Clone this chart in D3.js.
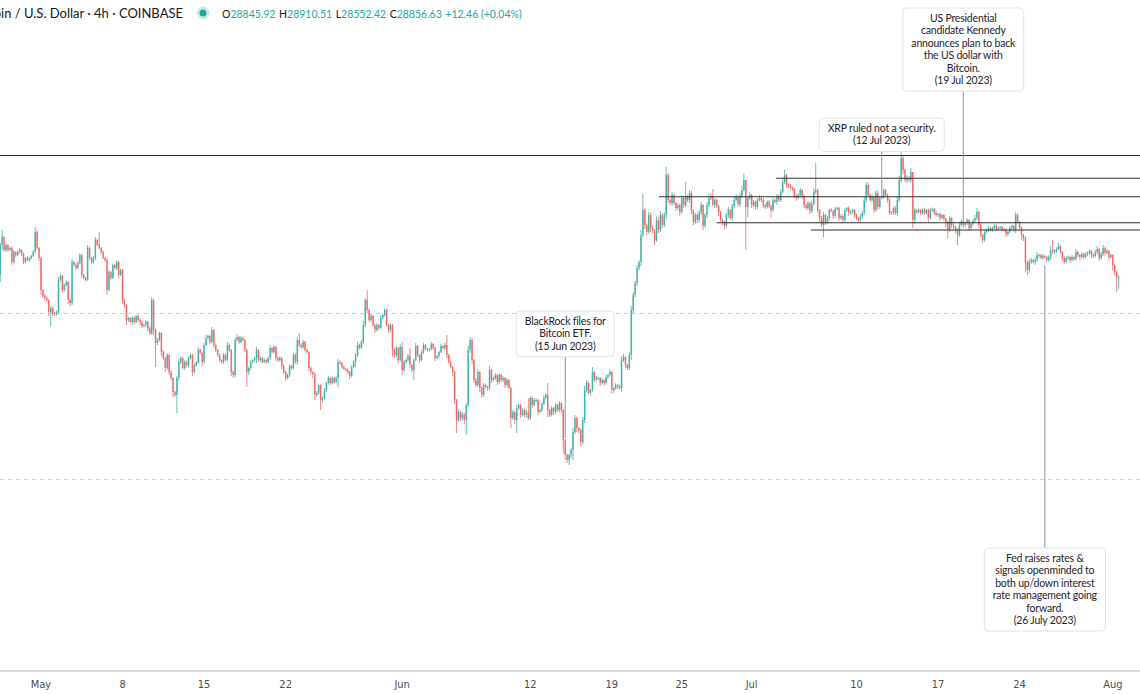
<!DOCTYPE html>
<html><head><meta charset="utf-8">
<script src="https://cdn.jsdelivr.net/npm/d3@7"></script>
<style>
html,body{margin:0;padding:0;background:#fff;}
svg{display:block;}
</style></head><body>
<svg id="chart" width="1140" height="694"></svg>
<script>
// ---- DATA (4h candles, Coinbase BTC/USD) ----
const candleStart = Date.UTC(2023, 3, 27, 12); // first candle time
const candleHours = 4;
const firstOpen = 28900;
// closes, one row per day (6 x 4h)
const closes = [
29620,29812,29500,29620,29500,29548, 29212,29452,29380,29452,29500,29404,
29212,29308,29260,29308,29356,29452, 29932,29548,29308,28540,28396,28348,
28300,28012,28108,27988,27964,28012, 28780,28876,28540,28660,28732,28300,
28228,29212,29140,29068,29188,29380, 28900,28828,28780,29548,29308,29212,
29308,29740,29620,29548,29452,29308, 29260,28540,28972,28828,29140,29068,
29212,28900,29020,28300,28180,27820, 27868,27772,27868,27772,27916,27820,
27772,27676,27700,27772,27628,27508, 28300,27580,27268,27340,27508,27052,
26908,26668,26980,26572,26428,26092, 26020,26428,26812,26908,26668,26812,
26740,26908,26980,26572,26740,26812, 27100,27028,26812,27220,27388,27436,
27292,27580,27220,27100,26980,26860, 26812,26980,26860,27220,27100,26572,
26500,27340,27412,27292,27388,27340, 27100,26572,26668,26812,26860,26908,
27100,26860,26908,26812,26860,26812, 26908,27148,27052,27172,26908,26860,
26908,26716,26572,26428,26500,26716, 26668,26980,26812,27340,27220,27172,
27292,27100,27052,26668,26572,26524, 26020,26068,26260,25900,25948,26140,
26308,26428,26308,26428,26332,26428, 26812,26788,26692,26644,26620,26572,
26476,26692,26812,26980,27220,27148, 27292,27700,28300,28060,27820,27916,
27700,27580,27700,27628,27868,27940, 28060,27700,27580,27700,27100,26980,
27148,26860,27172,26620,26812,26860, 26956,26740,26620,26860,27196,26980,
26860,27052,27220,27124,27100,27124, 27244,27148,26908,26956,27052,27196,
27148,27220,26980,26812,26692,26572, 25900,25420,25612,25468,25564,25420,
25780,27100,27340,26860,26380,26260, 26572,26188,26020,26260,26212,26188,
26620,26380,26428,26500,26332,26500, 26380,26428,26260,26380,26188,25468,
25612,25420,25708,25780,25540,25660, 25540,25612,25468,25948,25780,25900,
25900,25612,25660,25804,25948,26020, 25660,25540,25708,25612,25780,25660,
25828,25660,24940,24580,24460,24580, 24700,25132,25468,25228,25180,24892,
25420,26140,26308,26068,26140,26572, 26380,26428,26428,26308,26380,26308,
26452,26500,26572,26140,26188,26260, 26236,26188,26860,26932,26740,26668,
26980,28060,28420,28708,29068,29212, 29860,30460,30100,29932,30340,30028,
29980,29740,30220,29980,30340,30100, 30340,31300,30700,30628,30820,30628,
30508,30580,30412,30748,30580,30796, 30700,30868,30460,30172,30340,30220,
30412,30580,30076,30340,30580,30748, 30796,30580,30700,30556,30412,30220,
30172,30076,30340,30460,30268,30556, 30700,30772,30604,30796,30940,31180,
30532,30748,30820,30580,30652,30532, 30700,30748,30700,30580,30532,30652,
30556,30460,30700,30652,30796,30700, 30892,31132,31300,31060,31036,30988,
30964,30796,30748,30820,30940,30796, 30580,30508,30628,30436,30604,30892,
30940,30460,30268,30100,30340,30172, 30268,30460,30436,30316,30484,30508,
30268,30316,30220,30460,30508,30388, 30412,30460,30340,30268,30220,30316,
30388,30700,31060,30820,30700,30772, 30460,30868,30532,30748,30796,30940,
30820,30700,30388,30412,30508,30388, 30700,31180,31708,31420,31180,31228,
31180,31372,30220,30460,30412,30460, 30388,30460,30388,30460,30268,30460,
30484,30388,30340,30364,30268,30340, 30244,30172,29980,30268,30100,30052,
29980,29860,30100,30196,30100,30148, 30220,30028,30124,30196,30268,30412,
30100,29860,29740,29932,29980,30028, 29980,30028,30076,30004,30028,30052,
30004,29980,29884,29932,30028,30076, 29980,30340,30172,30028,29860,29788,
29212,29020,29212,29260,29212,29260, 29380,29380,29308,29356,29332,29260,
29332,29500,29452,29476,29524,29596, 29452,29308,29212,29308,29332,29260,
29332,29284,29452,29380,29332,29404, 29332,29404,29428,29476,29380,29356,
29452,29524,29308,29404,29548,29428, 29476,29332,29380,29140,28972,28844.17,
28856.63
];
// wick lengths above the body / below the body (USD)
const upperWick = [
48,168,36,48,24,36, 36,48,24,36,48,24, 36,24,48,36,24,48, 120,48,24,36,24,48,
36,24,48,36,24,36, 72,48,24,36,48,24, 36,72,24,36,48,48, 24,36,24,72,36,24,
48,72,36,312,24,36, 24,36,48,24,36,24, 48,24,36,24,36,24, 36,24,48,36,24,36,
48,36,24,36,24,36, 72,24,36,48,36,24, 36,24,48,24,36,24, 24,48,72,36,24,48,
36,48,36,24,36,24, 72,36,24,48,72,36, 24,72,24,36,24,36, 24,48,36,72,36,24,
36,48,72,24,48,36, 24,36,36,48,24,36, 72,24,36,24,48,24, 36,72,24,48,24,36,
48,24,36,24,36,48, 24,48,36,72,168,36, 48,24,36,24,36,24, 36,48,36,24,36,48,
36,48,24,36,24,48, 72,48,24,36,24,36, 24,48,36,48,72,36, 48,96,48,240,36,48,
24,36,48,24,72,36, 48,24,36,48,24,36, 48,24,72,120,48,36, 48,192,24,36,72,24,
24,48,48,24,36,24, 48,24,36,24,36,48, 24,48,240,24,36,24, 36,24,72,36,48,24,
48,96,72,36,24,48, 72,24,36,48,24,36, 96,24,36,48,24,48, 36,48,24,48,24,36,
48,24,72,36,24,48, 24,48,336,48,36,48, 48,24,36,48,72,48, 288,24,48,24,48,24,
48,24,36,24,36,24, 48,96,72,36,24,36, 72,96,72,36,24,120, 24,48,36,24,48,24,
48,36,72,24,36,48, 24,36,96,72,24,36, 72,96,72,48,72,48, 120,408,48,36,72,48,
48,24,72,48,96,48, 72,192,48,36,72,48, 24,48,36,72,48,336, 36,72,48,24,48,36,
48,72,24,48,72,96, 72,168,48,36,24,36, 24,36,48,72,24,48, 96,72,48,72,96,168,
0,48,72,24,48,36, 48,72,36,48,24,36, 48,24,72,36,48,36, 72,96,120,48,24,48,
36,24,48,36,48,24, 36,24,48,24,72,96, 648,36,24,48,72,24, 48,36,48,24,48,36,
24,48,36,48,24,48, 48,36,24,36,24,48, 48,72,72,48,36,72, 24,72,48,36,72,48,
24,36,48,24,36,48, 72,96,144,48,36,72, 48,96,0,48,24,36, 24,36,48,24,36,48,
36,24,48,24,36,24, 24,36,24,48,24,36, 24,36,72,48,24,36, 48,24,36,48,72,96,
24,36,24,48,36,48, 24,36,48,24,36,24, 36,24,36,24,48,36, 24,72,36,24,36,24,
48,36,72,48,24,48, 72,36,24,48,36,24, 48,96,240,48,36,72, 36,24,36,48,36,24,
48,24,72,36,24,48, 24,48,36,48,24,36, 48,72,24,48,72,36, 48,24,36,24,36,48,
53.88
];
const lowerWick = [
168,120,48,36,48,24, 72,36,48,24,36,48, 48,36,24,48,36,24, 36,48,72,120,48,72,
48,96,360,72,48,36, 48,36,72,48,36,96, 72,48,36,48,24,36, 72,36,48,24,48,36,
36,48,24,36,48,24, 48,120,36,48,24,36, 48,72,24,96,72,120, 48,36,72,48,36,48,
72,48,36,48,72,48, 48,120,576,48,36,96, 48,96,48,72,48,120, 48,432,72,48,36,48,
36,48,36,96,48,36, 48,36,96,48,24,36, 48,24,72,48,36,48, 36,48,24,36,48,96,
72,48,36,48,24,36, 48,360,72,48,36,48, 120,36,48,36,24,48, 36,48,24,36,72,48,
48,72,48,72,36,48, 48,36,48,72,48,36, 48,36,48,72,48,96, 120,48,36,240,48,36,
48,36,48,24,48,36, 216,48,36,24,36,48, 72,36,24,120,48,36, 24,48,48,72,48,36,
48,72,36,48,24,36, 36,48,72,48,168,72, 48,72,36,120,48,36, 48,72,48,240,24,48,
72,36,48,24,36,48, 36,48,72,36,48,24, 36,48,72,48,36,96, 96,312,48,72,48,96,
360,48,72,96,72,48, 48,96,72,48,36,72, 48,72,36,48,72,48, 36,48,72,48,36,240,
48,96,312,48,72,36, 48,72,48,48,72,36, 48,72,36,48,24,36, 168,48,36,72,48,36,
48,72,312,120,72,120, 72,240,48,96,72,96, 48,72,48,36,72,48, 48,36,48,72,36,48,
36,48,36,96,72,48, 72,48,96,48,72,48, 48,120,72,48,72,48, 96,48,96,72,48,96,
72,120,48,72,48,72, 48,96,72,48,72,48, 72,48,96,48,72,48, 48,72,96,72,48,72,
48,72,96,48,72,48, 48,36,72,48,96,48, 72,96,48,72,48,72, 48,36,48,72,48,36,
1032,240,48,72,48,72, 48,36,48,72,48,36, 48,192,48,36,72,48, 48,36,48,72,48,36,
48,48,72,36,48,72, 72,48,36,72,48,36, 48,72,96,48,288,72, 48,72,36,72,48,36,
72,48,72,36,48,72, 48,36,72,48,72,48, 72,48,72,48,36,48, 72,48,72,48,36,72,
48,72,48,36,72,48, 72,48,72,96,48,72, 48,72,192,96,48,36, 48,36,48,36,96,48,
36,48,36,48,72,36, 48,120,192,48,72,48, 72,240,48,36,72,48, 48,72,36,48,36,48,
72,48,72,48,36,48, 36,48,36,48,36,48, 48,36,72,48,36,48, 48,72,36,48,120,72,
240,120,72,48,36,72, 48,72,36,48,36,48, 48,72,48,36,48,24, 48,72,48,36,48,72,
36,48,36,48,72,36, 48,36,48,36,72,48, 36,48,72,36,48,72, 48,72,48,120,96,352,
291.58
];
const tickDates  = ["2023-05-01","2023-05-08","2023-05-15","2023-05-22","2023-06-01","2023-06-12","2023-06-19","2023-06-25","2023-07-01","2023-07-10","2023-07-17","2023-07-24","2023-08-01"];
const tickLabels = ["May","8","15","22","Jun","12","19","25","Jul","10","17","24","Aug"];
const gridPrices = [28000, 24000];
const levelPrices = [31768, 31221, 30779, 30155, 29980];
const levelStarts = ["2023-04-20T00:00Z","2023-07-03T02:00Z","2023-06-23T01:00Z","2023-06-28T00:00Z","2023-07-06T02:00Z"];
const annotationTexts = [
  ["BlackRock files for","Bitcoin ETF.","(15 Jun 2023)"],
  ["XRP ruled not a security.","(12 Jul 2023)"],
  ["US Presidential","candidate Kennedy","announces plan to back","the US dollar with","Bitcoin.","(19 Jul 2023)"],
  ["Fed raises rates &","signals openminded to","both up/down interest","rate management going","forward.","(26 July 2023)"]
];
const annotationDates  = ["2023-06-15T00:00Z","2023-07-12T04:00Z","2023-07-19T04:00Z","2023-07-26T04:00Z"];
const annotationPrices = [24988, 30868, 30220, 29140];
const headerTitle = "Bitcoin / U.S. Dollar · 4h · COINBASE";
const headerLabels = ["O","H","L","C"];
const headerValues = ["28845.92","28910.51","28552.42","28856.63"];
const headerChange = "+12.46 (+0.04%)";

// ---- LAYOUT / STYLE ----
const W = 1140, H = 694, plotBottom = 671;
const annotationBoxTop = [311, 118, 8, 548];
const annotationSide = ["above","above","above","below"];
const UP = "#26a69a", DOWN = "#ef5350";

const svg = d3.select("#chart");
const x = d3.scaleUtc().domain([Date.UTC(2023,4,1), Date.UTC(2023,7,1)]).range([41, 41 + 92*11.65]);
const y = d3.scaleLinear().domain([19468, 35500]).range([668, 0]);

// grid dashed lines
svg.append("g").selectAll("line").data(gridPrices).join("line")
  .attr("x1", 0).attr("x2", W)
  .attr("y1", d => Math.round(y(d)) + 0.5).attr("y2", d => Math.round(y(d)) + 0.5)
  .attr("stroke", "#cfd2da").attr("stroke-width", 1).attr("stroke-dasharray", "4,4");

// candles
const candles = closes.map((c, i) => {
  const o = i === 0 ? firstOpen : closes[i-1];
  return {
    t: new Date(candleStart + i*candleHours*3600e3),
    o, c,
    h: Math.max(o, c) + upperWick[i],
    l: Math.min(o, c) - lowerWick[i]
  };
});
const cg = svg.append("g");
cg.selectAll("line").data(candles).join("line")
  .attr("x1", d => x(d.t)).attr("x2", d => x(d.t))
  .attr("y1", d => y(d.h)).attr("y2", d => y(d.l))
  .attr("stroke", d => d.c >= d.o ? UP : DOWN).attr("stroke-width", 1).attr("stroke-opacity", 0.7);
cg.selectAll("rect").data(candles).join("rect")
  .attr("x", d => x(d.t) - 0.8).attr("width", 1.6)
  .attr("y", d => y(Math.max(d.o, d.c)))
  .attr("height", d => Math.max(0.8, Math.abs(y(d.o) - y(d.c))))
  .attr("fill", d => d.c >= d.o ? UP : DOWN).attr("fill-opacity", 0.66);

// horizontal levels
svg.append("g").selectAll("line").data(levelPrices).join("line")
  .attr("x1", (d, i) => Math.max(0, x(new Date(levelStarts[i])))).attr("x2", W)
  .attr("y1", d => y(d)).attr("y2", d => y(d))
  .attr("stroke", "#2f2f2f").attr("stroke-width", 1.1);

// annotations
const ag = svg.append("g").attr("font-family", "Lato, 'Open Sans', sans-serif")
  .attr("font-size", 10.5).attr("letter-spacing", -0.2);
annotationTexts.forEach((lines, k) => {
  const cx = x(new Date(annotationDates[k]));
  const ay = y(annotationPrices[k]);
  const top = annotationBoxTop[k];
  const bh = 21 + (lines.length - 1) * 12.4;
  const g = ag.append("g");
  const conn = g.append("line").attr("x1", cx).attr("x2", cx)
    .attr("stroke", "#8f939c").attr("stroke-width", 1);
  if (annotationSide[k] === "above") conn.attr("y1", top + bh).attr("y2", ay);
  else conn.attr("y1", ay).attr("y2", top);
  const rect = g.append("rect");
  const txt = g.append("text").attr("text-anchor", "middle").attr("fill", "#1f232d");
  let maxW = 0;
  lines.forEach((s, j) => {
    const t = txt.append("tspan").attr("x", cx).attr("y", top + 14 + j*12.4).text(s);
    maxW = Math.max(maxW, t.node().getComputedTextLength());
  });
  const bw = maxW + 17;
  rect.attr("x", cx - bw/2).attr("y", top).attr("width", bw).attr("height", bh)
    .attr("rx", 4).attr("fill", "#fff").attr("stroke", "#e0e3eb").attr("stroke-width", 1);
});

// x axis
svg.append("line").attr("x1", 0).attr("x2", W).attr("y1", plotBottom).attr("y2", plotBottom)
  .attr("stroke", "#b2b5be").attr("stroke-width", 1);
svg.append("g").selectAll("text").data(tickDates).join("text")
  .attr("x", d => x(new Date(d + "T00:00Z"))).attr("y", 688)
  .attr("text-anchor", "middle")
  .attr("font-family", "'Liberation Sans Narrow', 'DejaVu Sans Condensed', sans-serif")
  .attr("font-size", 11).attr("fill", "#4a4d57")
  .text((d, i) => tickLabels[i]);

// header
const hd = svg.append("g").attr("font-family", "Lato, 'Open Sans', sans-serif");
hd.append("text").attr("x", 183).attr("y", 18).attr("text-anchor", "end")
  .attr("font-size", 13).attr("fill", "#131722").text(headerTitle);
hd.append("circle").attr("cx", 203).attr("cy", 13).attr("r", 6.5).attr("fill", UP).attr("fill-opacity", 0.22);
hd.append("circle").attr("cx", 203).attr("cy", 13).attr("r", 3.5).attr("fill", UP);
const ohlc = hd.append("text").attr("x", 222).attr("y", 17.5).attr("font-size", 10.5);
headerLabels.forEach((l, i) => {
  ohlc.append("tspan").attr("fill", "#131722").attr("dx", i ? 3.5 : 0).text(l);
  ohlc.append("tspan").attr("fill", UP).text(headerValues[i]);
});
ohlc.append("tspan").attr("fill", UP).attr("dx", 3.5).text(headerChange);
</script>
</body></html>
